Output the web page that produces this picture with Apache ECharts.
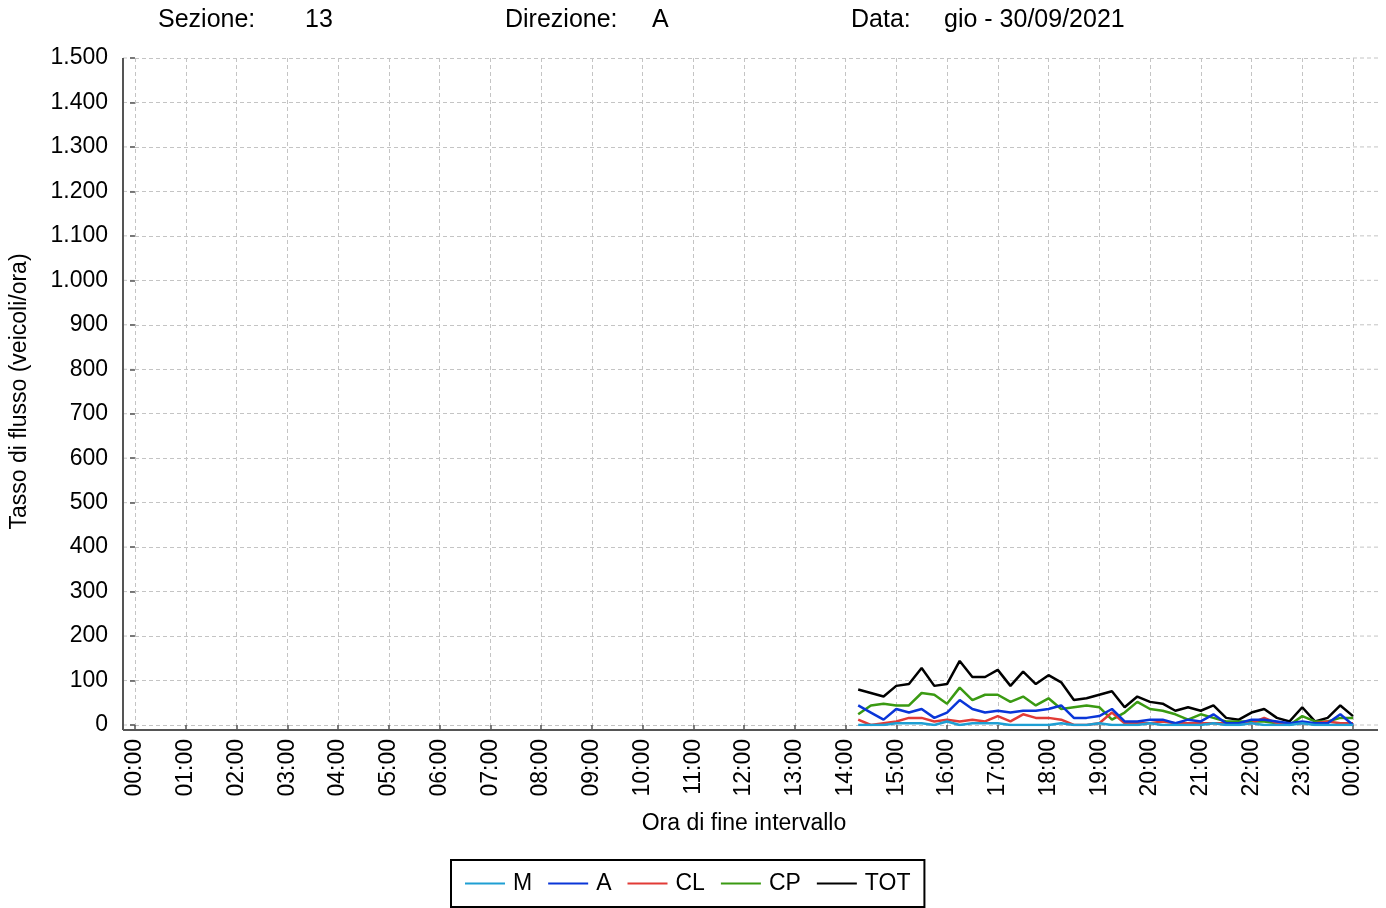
<!DOCTYPE html>
<html><head><meta charset="utf-8">
<script src="https://cdn.jsdelivr.net/npm/echarts@6/dist/echarts.min.js"></script>
<style>html,body{margin:0;padding:0;background:#fff}#c{width:1386px;height:908px}</style>
</head><body><div id="c"></div>
<script>
// 15-minute interval end times
const times = ["14:15","14:30","14:45","15:00","15:15","15:30","15:45","16:00","16:15","16:30","16:45","17:00","17:15","17:30","17:45","18:00","18:15","18:30","18:45","19:00","19:15","19:30","19:45","20:00","20:15","20:30","20:45","21:00","21:15","21:30","21:45","22:00","22:15","22:30","22:45","23:00","23:15","23:30","23:45","24:00"];
const M   = [0,0,0,4,4,4,0,8,0,4,4,4,0,0,0,0,4,0,0,4,0,0,0,4,0,0,0,0,4,0,0,4,0,0,0,4,0,0,0,0];
const A   = [44,28,12,36,28,36,16,28,56,36,28,32,28,32,32,36,44,16,16,20,36,8,8,12,12,4,12,8,24,4,4,12,12,8,4,8,4,4,24,0];
const CL  = [12,0,4,8,16,16,8,12,8,12,8,20,8,24,16,16,12,0,0,4,28,4,4,4,8,4,4,4,4,4,4,4,16,4,4,4,4,8,4,4];
const CP  = [24,44,48,44,44,72,68,48,84,56,68,68,52,64,44,60,36,40,44,40,12,28,52,36,32,24,12,24,16,8,8,8,8,4,0,20,8,8,16,16];
const TOT = [80,72,64,88,92,128,88,92,144,108,108,124,88,120,92,112,96,56,60,68,76,40,64,52,48,32,40,32,44,16,12,28,36,16,8,40,8,16,44,20];
const xTickLabels = ["00:00","01:00","02:00","03:00","04:00","05:00","06:00","07:00","08:00","09:00","10:00","11:00","12:00","13:00","14:00","15:00","16:00","17:00","18:00","19:00","20:00","21:00","22:00","23:00","00:00"];
const yTickLabels = ["0","100","200","300","400","500","600","700","800","900","1.000","1.100","1.200","1.300","1.400","1.500"];
const seriesNames = ["M","A","CL","CP","TOT"];
const seriesColors = {M:"#1f9fd3", A:"#0a36d8", CL:"#e23b36", CP:"#3a9a12", TOT:"#000000"};
const seriesData = {M, A, CL, CP, TOT};

const toMin = t => { const [h,m] = t.split(":").map(Number); return h*60+m; };
const FONT = "'Liberation Sans', Arial, Helvetica, sans-serif";
const FS = 23;
const chart = echarts.init(document.getElementById('c'));

const G = {left:135, right:33, top:58, bottom:183};
const AX = "#555555";
const GRIDC = "#c4c4c4";

// draw order: M on top (reverse)
const order = ["TOT","CP","CL","A","M"];
const series = order.map(n => ({
  name: n, type: 'line', symbol: 'none', showSymbol: false,
  data: times.map((t,i) => [toMin(t), seriesData[n][i]]),
  lineStyle: {color: seriesColors[n], width: 2.5},
  itemStyle: {color: seriesColors[n]},
  animation: false
}));

const titleParts = [
  {text:"Sezione:", x:158}, {text:"13", x:305},
  {text:"Direzione:", x:505}, {text:"A", x:652},
  {text:"Data:", x:851}, {text:"gio - 30/09/2021", x:944}
];

chart.setOption({
  animation: false,
  backgroundColor: '#ffffff',
  textStyle: {fontFamily: FONT},
  grid: G,
  xAxis: {
    type: 'value', min: 0, max: 1440, interval: 60, offset: 5,
    name: 'Ora di fine intervallo', nameLocation: 'middle', nameGap: 82,
    nameTextStyle: {fontSize: FS, color: '#000', fontFamily: FONT},
    axisLine: {show: false},
    axisTick: {show: true, length: 6, lineStyle: {color: AX, width: 1.5}},
    axisLabel: {rotate: 90, margin: 9, fontSize: FS, color: '#000', fontFamily: FONT,
      formatter: v => xTickLabels[Math.round(v/60)]},
    splitLine: {show: true, lineStyle: {color: GRIDC, type: [4,3], width: 1}}
  },
  yAxis: {
    type: 'value', min: 0, max: 1500, interval: 100, offset: 12,
    name: 'Tasso di flusso (veicoli/ora)', nameLocation: 'middle', nameGap: 92,
    nameTextStyle: {fontSize: FS, color: '#000', fontFamily: FONT},
    axisLine: {show: false},
    axisTick: {show: true, length: 5, lineStyle: {color: AX, width: 1.5}},
    axisLabel: {margin: 15, fontSize: FS, color: '#000', fontFamily: FONT,
      formatter: v => yTickLabels[Math.round(v/100)]},
    splitLine: {show: true, lineStyle: {color: GRIDC, type: [4,3], width: 1}}
  },
  legend: {
    data: seriesNames.map(n => ({name: n, icon: 'rect'})), left: 451, top: 860, orient: 'horizontal',
    itemWidth: 40, itemHeight: 2, itemGap: 16,
    padding: [12, 14], borderColor: '#000', borderWidth: 2, borderRadius: 0,
    textStyle: {fontSize: FS, color: '#000', fontFamily: FONT, padding: [0,0,0,3]}
  },
  series: series
});

// axis lines, title texts and grid-line extensions (computed from the axes)
const gl = [];
const p0 = chart.convertToPixel({gridIndex:0}, [0,0]);
const p1 = chart.convertToPixel({gridIndex:0}, [1440,1500]);
const axisX = p0[0] - 12, axisY = p0[1] + 5, rightEdge = p1[0] + 25;
yTickLabels.forEach((_, i) => {
  const y = chart.convertToPixel({gridIndex:0}, [0, i*100])[1];
  gl.push({type:'line', shape:{x1:axisX, y1:y, x2:p0[0], y2:y}, style:{stroke:GRIDC, lineWidth:1, lineDash:[4,3]}, silent:true});
  gl.push({type:'line', shape:{x1:p1[0], y1:y, x2:rightEdge, y2:y}, style:{stroke:GRIDC, lineWidth:1, lineDash:[4,3]}, silent:true});
});
xTickLabels.forEach((_, i) => {
  const x = chart.convertToPixel({gridIndex:0}, [i*60, 0])[0];
  gl.push({type:'line', shape:{x1:x, y1:p0[1], x2:x, y2:axisY}, style:{stroke:GRIDC, lineWidth:1, lineDash:[2,2]}, silent:true});
});
gl.push({type:'line', shape:{x1:axisX, y1:p1[1], x2:axisX, y2:axisY}, style:{stroke:AX, lineWidth:2}, z:10, silent:true});
gl.push({type:'line', shape:{x1:axisX, y1:axisY, x2:rightEdge, y2:axisY}, style:{stroke:AX, lineWidth:2}, z:10, silent:true});
titleParts.forEach(t => gl.push({type:'text', left:t.x, top:8, style:{text:t.text, fontSize:25, fill:'#000', fontFamily:FONT}, silent:true}));
chart.setOption({graphic: gl});
</script></body></html>
